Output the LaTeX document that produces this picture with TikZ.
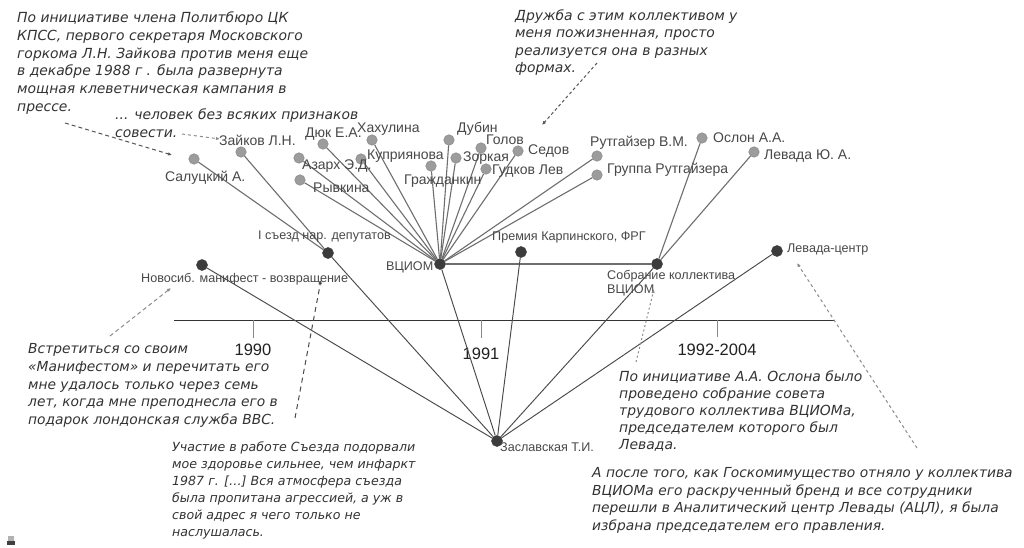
\documentclass[tikz,border=0pt]{standalone}
\usepackage{fontspec}
\setmainfont{Liberation Sans}
\newfontfamily\qf{DejaVu Sans}
\usetikzlibrary{arrows.meta}
\definecolor{gdotc}{HTML}{9C9C9C}
\definecolor{gdotb}{HTML}{8A8A8A}
\definecolor{ddotc}{HTML}{3C3C3C}
\definecolor{spokec}{HTML}{6E6E6E}
\definecolor{zlinec}{HTML}{4A4A4A}
\definecolor{labc}{HTML}{484848}
\definecolor{quotec}{HTML}{333333}
\definecolor{yearc}{HTML}{222222}
\definecolor{tlc}{HTML}{333333}
\definecolor{tickc}{HTML}{888888}
\definecolor{notec}{HTML}{555555}
\definecolor{notelight}{HTML}{8C8C8C}
\newcommand\qbig{\qf\itshape\fontsize{13.9}{17.8}\selectfont}
\newcommand\qlines[1]{\begin{tabular}[t]{@{}l@{}}#1\end{tabular}}
\begin{document}
\begin{tikzpicture}[x=1pt,y=-1pt,
  gdot/.style={circle,fill=gdotc,draw=gdotb,line width=0.5pt,minimum size=10.5pt,inner sep=0pt},
  ddot/.style={circle,fill=ddotc,draw=ddotc,line width=0.5pt,minimum size=11pt,inner sep=0pt},
  spoke/.style={draw=spokec,line width=1.1pt},
  zline/.style={draw=zlinec,line width=0.95pt},
  lab/.style={font=\fontsize{14}{16}\selectfont,text=labc,inner sep=0pt,anchor=base west},
  lablow/.style={font=\fontsize{12.6}{14}\selectfont,text=labc,inner sep=0pt,anchor=base west},
  quote/.style={text=quotec,inner sep=0pt,anchor=base west},
  year/.style={font=\fontsize{16.5}{18}\selectfont,text=yearc,inner sep=0pt,anchor=base},
  note/.style={draw=notec,line width=1pt,-{Latex[length=4pt,width=3.5pt]}},
  timeline/.style={draw=tlc,line width=1pt},
  tickline/.style={draw=tickc,line width=1pt}
]
\useasboundingbox[fill=white] (0,0) rectangle (1024,548);

% ---------- timeline ----------
\coordinate (tlA) at (174,320);
\coordinate (tlB) at (835,320);
\coordinate (t90a) at (253,320); \coordinate (t90b) at (253,338);
\coordinate (t91a) at (481,320); \coordinate (t91b) at (481,338);
\coordinate (t92a) at (717,320); \coordinate (t92b) at (717,337);
\draw[timeline] (tlA) -- (tlB);
\draw[tickline] (t90a) -- (t90b);
\draw[tickline] (t91a) -- (t91b);
\draw[tickline] (t92a) -- (t92b);
\node[year] (y90) at (253,355) {1990};
\node[year] (y91) at (481,359) {1991};
\node[year] (y92) at (717,355) {1992-2004};

% ---------- dots ----------
\node[ddot] (vciom) at (440,264) {};
\node[ddot] (zasl) at (497,441) {};
\node[ddot] (sobr) at (657,264) {};
\node[ddot] (lcentr) at (777,251) {};
\node[ddot] (prem) at (521,252) {};
\node[ddot] (sezd) at (328,253) {};
\node[ddot] (novosib) at (202,265) {};

\node[gdot] (salut) at (194,159) {};
\node[gdot] (zaik) at (241,152) {};
\node[gdot] (azarh) at (299,158) {};
\node[gdot] (ryvk) at (300,180) {};
\node[gdot] (duk) at (323,144) {};
\node[gdot] (hah) at (372,140) {};
\node[gdot] (kupr) at (361,159) {};
\node[gdot] (grazh) at (431,166) {};
\node[gdot] (dubin) at (449,140) {};
\node[gdot] (zork) at (456,158) {};
\node[gdot] (golov) at (481,148) {};
\node[gdot] (gudk) at (486,169) {};
\node[gdot] (sedov) at (518,151) {};
\node[gdot] (rutg) at (597,156) {};
\node[gdot] (grrutg) at (597,175) {};
\node[gdot] (oslon) at (702,138) {};
\node[gdot] (levada) at (754,152) {};

% ---------- connectors ----------
\foreach \s in {azarh,ryvk,duk,hah,kupr,grazh,dubin,zork,golov,gudk,sedov,rutg,grrutg}
  \draw[spoke] (\s) -- (vciom);
\draw[spoke] (vciom) -- (sobr);
\draw[spoke] (salut) -- (sezd);
\draw[spoke] (zaik) -- (sezd);
\draw[spoke] (oslon) -- (sobr);
\draw[spoke] (levada) -- (sobr);
\foreach \s in {novosib,sezd,vciom,prem,sobr,lcentr}
  \draw[zline] (\s) -- (zasl);

% ---------- labels ----------
\node[lab] (l-salut) at (165,182) {Салуцкий А.};
\node[lab] (l-zaik) at (219,146) {Зайков Л.Н.};
\node[lab] (l-duk) at (305,138) {Дюк Е.А.};
\node[lab] (l-hah) at (357,133) {Хахулина};
\node[lab] (l-azarh) at (302,170) {Азарх Э.Д.};
\node[lab] (l-kupr) at (367,160) {Куприянова};
\node[lab] (l-ryvk) at (313,192) {Рывкина};
\node[lab] (l-grazh) at (404,185) {Гражданкин};
\node[lab] (l-dubin) at (457,133) {Дубин};
\node[lab] (l-golov) at (486,145) {Голов};
\node[lab] (l-zork) at (463,162) {Зоркая};
\node[lab] (l-gudk) at (492,175) {Гудков Лев};
\node[lab] (l-sedov) at (528,155) {Седов};
\node[lab] (l-rutg) at (590,147) {Рутгайзер В.М.};
\node[lab] (l-grrutg) at (607,174) {Группа Рутгайзера};
\node[lab] (l-oslon) at (713,143) {Ослон А.А.};
\node[lab] (l-levada) at (764,160) {Левада Ю. А.};

\node[lablow] (l-prem) at (492,240.5) {Премия Карпинского, ФРГ};
\node[lablow] (l-lcentr) at (787,252.5) {Левада-центр};
\node[lablow] (l-sobr) at (607,279) {\begin{tabular}[t]{@{}l@{}}Собрание коллектива\\ВЦИОМ\end{tabular}};
\node[lablow] (l-vciom) at (386,270.5) {ВЦИОМ};
\node[lablow] (l-sezd) at (258,239.5) {I съезд нар. депутатов};
\node[lablow] (l-novosib) at (141,282.5) {Новосиб. манифест - возвращение};
\node[lablow] (l-zasl) at (500,451.5) {Заславская Т.И.};

% ---------- quotes ----------
\node[quote,font=\qbig] (q1) at (17,22.5) {\qlines{По инициативе члена Политбюро ЦК\\
КПСС, первого секретаря Московского\\
горкома Л.Н. Зайкова против меня еще\\
в декабре 1988 г . была развернута\\
мощная клеветническая кампания в\\
прессе.}};
\node[quote,font=\qbig] (q2) at (115,119.5) {\qlines{... человек без всяких признаков\\
совести.}};
\node[quote,font=\qf\itshape\fontsize{13.9}{17.3}\selectfont] (q3) at (515,20.5) {\qlines{Дружба с этим коллективом у\\
меня пожизненная, просто\\
реализуется она в разных\\
формах.}};
\node[quote,font=\qf\itshape\fontsize{13.8}{17.8}\selectfont] (q4) at (28,353.5) {\qlines{Встретиться со своим\\
«Манифестом» и перечитать его\\
мне удалось только через семь\\
лет, когда мне преподнесла его в\\
подарок лондонская служба BBC.}};
\node[quote,font=\qf\itshape\fontsize{12.6}{17}\selectfont] (q5) at (172,451) {\qlines{Участие в работе Съезда подорвали\\
мое здоровье сильнее, чем инфаркт\\
1987 г. […] Вся атмосфера съезда\\
была пропитана агрессией, а уж в\\
свой адрес я чего только не\\
наслушалась.}};
\node[quote,font=\qf\itshape\fontsize{13.9}{17}\selectfont] (q6) at (619,381.5) {\qlines{По инициативе А.А. Ослона было\\
проведено собрание совета\\
трудового коллектива ВЦИОМа,\\
председателем которого был\\
Левада.}};
\node[quote,font=\qf\itshape\fontsize{13.8}{17.5}\selectfont] (q7) at (592,477.5) {\qlines{А после того, как Госкомимущество отняло у коллектива\\
ВЦИОМа его раскрученный бренд и все сотрудники\\
перешли в Аналитический центр Левады (АЦЛ), я была\\
избрана председателем его правления.}};

% ---------- note pointers ----------
\coordinate (n1a) at (65,123);  \coordinate (n1b) at (172,155);
\coordinate (n2a) at (182,134); \coordinate (n2b) at (220,139);
\coordinate (n3a) at (597,63);  \coordinate (n3b) at (542,125);
\coordinate (n4a) at (110,336); \coordinate (n4b) at (171,288);
\coordinate (n5a) at (295,418); \coordinate (n5b) at (321,280);
\coordinate (n6a) at (636,362); \coordinate (n6b) at (654,289);
\coordinate (n7a) at (917,448); \coordinate (n7b) at (797,263);
\draw[note,dash pattern=on 4pt off 3pt] (n1a) -- (n1b);
\draw[note,draw=notelight,dash pattern=on 3pt off 3pt] (n2a) -- (n2b);
\draw[note,dash pattern=on 3pt off 2.5pt] (n3a) -- (n3b);
\draw[note,draw=notelight,dash pattern=on 4pt off 3pt] (n4a) -- (n4b);
\draw[note,draw=zlinec,dash pattern=on 5pt off 4pt] (n5a) -- (n5b);
\draw[note,draw=notelight,dash pattern=on 2pt off 2.5pt] (n6a) -- (n6b);
\draw[note,draw=notelight,dash pattern=on 3pt off 3pt] (n7a) -- (n7b);

% ---------- small corner mark ----------
\fill[gray!60] (8,536) rectangle (14,541);
\fill[black!75] (7,541) rectangle (15,545);
\end{tikzpicture}
\end{document}
